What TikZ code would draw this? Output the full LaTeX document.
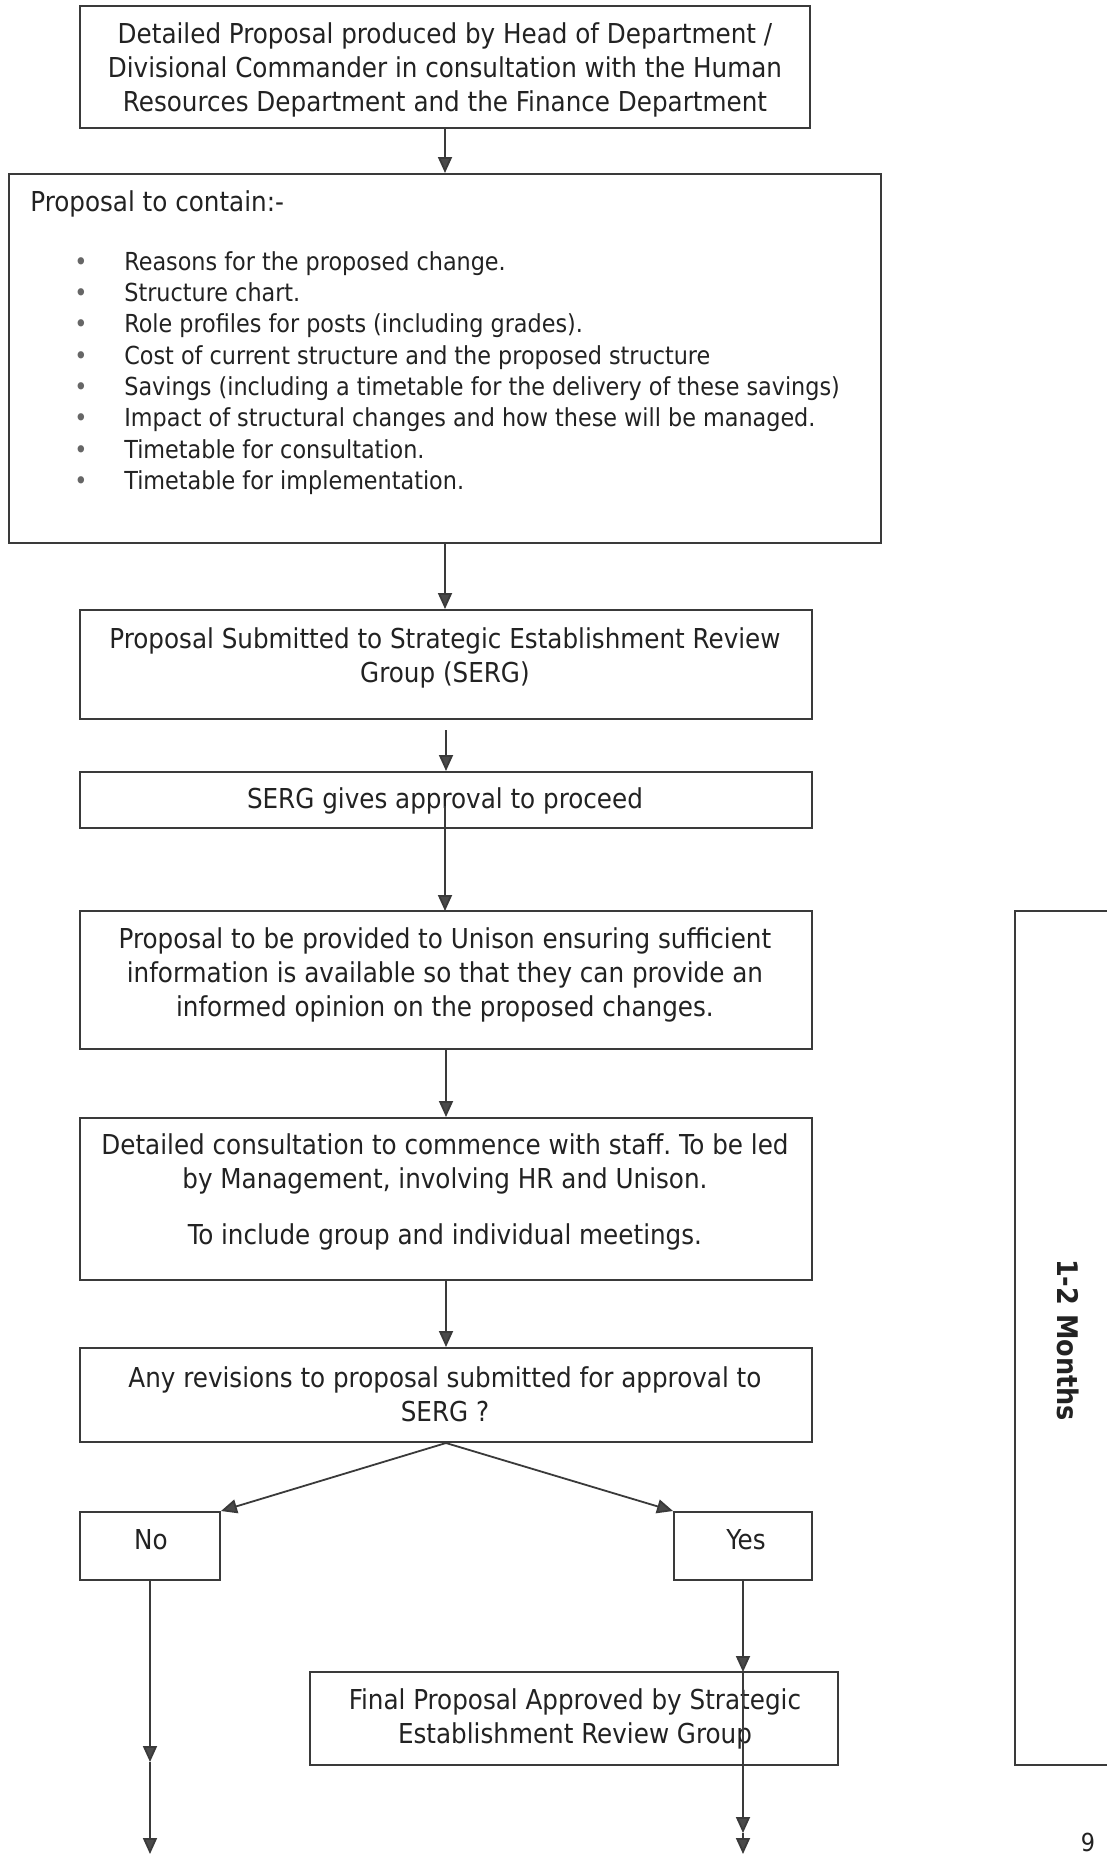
\documentclass[tikz,border=0pt]{standalone}
\usepackage{fontspec}
\setmainfont{DejaVu Sans Condensed}
\usetikzlibrary{arrows.meta,fit}
\definecolor{ink}{HTML}{222222}
\definecolor{edge}{HTML}{3A3A3A}
\definecolor{tip}{HTML}{4A4A4A}
\frenchspacing
\tikzset{
  box/.style={draw=edge, line width=1pt, inner sep=0pt, rectangle},
  txt/.style={text=ink, align=center, inner sep=0pt, font=\fontsize{13.7}{17}\selectfont},
  conn/.style={draw=edge, line width=0.9pt, -{Triangle[width=7pt,length=8pt,fill=tip]}},
}
\begin{document}
\begin{tikzpicture}[x=0.5pt,y=-0.5pt]
\useasboundingbox (0,0) rectangle (1107,1854);
\fill[white] (0,0) rectangle (1107,1854);
\clip (0,0) rectangle (1107,1854);

% boxes
\node[box, fit={(80,6)(810,128)}] (b1) {};
\node[box, fit={(9,174)(881,543)}] (b2) {};
\node[box, fit={(80,610)(812,719)}] (b3) {};
\node[box, fit={(80,772)(812,828)}] (b4) {};
\node[box, fit={(80,911)(812,1049)}] (b5) {};
\node[box, fit={(80,1118)(812,1280)}] (b6) {};
\node[box, fit={(80,1348)(812,1442)}] (b7) {};
\node[box, fit={(80,1512)(220,1580)}] (no) {};
\node[box, fit={(674,1512)(812,1580)}] (yes) {};
\node[box, fit={(310,1672)(838,1765)}] (fin) {};
\node[box, fit={(1015,911)(1120,1765)}] (months) {};

% texts
\node[txt] (b1t) at (445,70) {Detailed Proposal produced by Head of Department /\\Divisional Commander in consultation with the Human\\Resources Department and the Finance Department};
\node[txt, anchor=west] (b2h) at (30,204) {Proposal to contain:-};
\node[txt, anchor=west, align=left, font=\fontsize{12.4}{15.65}\selectfont] (b2l) at (74,373) {%
\makebox[25pt][l]{\textcolor{black!60}{•}}Reasons for the proposed change.\\
\makebox[25pt][l]{\textcolor{black!60}{•}}Structure chart.\\
\makebox[25pt][l]{\textcolor{black!60}{•}}Role profiles for posts (including grades).\\
\makebox[25pt][l]{\textcolor{black!60}{•}}Cost of current structure and the proposed structure\\
\makebox[25pt][l]{\textcolor{black!60}{•}}Savings (including a timetable for the delivery of these savings)\\
\makebox[25pt][l]{\textcolor{black!60}{•}}Impact of structural changes and how these will be managed.\\
\makebox[25pt][l]{\textcolor{black!60}{•}}Timetable for consultation.\\
\makebox[25pt][l]{\textcolor{black!60}{•}}Timetable for implementation.};
\node[txt] (b3t) at (445,658) {Proposal Submitted to Strategic Establishment Review\\Group (SERG)};
\node[txt] (b4t) at (445,801) {SERG gives approval to proceed};
\node[txt] (b5t) at (445,975) {Proposal to be provided to Unison ensuring sufficient\\information is available so that they can provide an\\informed opinion on the proposed changes.};
\node[txt] (b6t) at (445,1164) {Detailed consultation to commence with staff. To be led\\by Management, involving HR and Unison.};
\node[txt] (b6u) at (445,1237) {To include group and individual meetings.};
\node[txt] (b7t) at (445,1394) {Any revisions to proposal submitted for approval to\\SERG ?};
\node[txt] (not) at (151,1540) {No};
\node[txt] (yest) at (746,1540) {Yes};
\node[txt] (fint) at (575,1719) {Final Proposal Approved by Strategic\\Establishment Review Group};
\node[txt, rotate=-90, font=\bfseries\fontsize{14.2}{16}\selectfont] (mt) at (1068,1340) {1-2 Months};
\node[txt, anchor=south, font=\fontsize{12.4}{15}\selectfont] (pg) at (1088,1852) {9};

% connectors
\coordinate (na) at (150,1762);
\coordinate (nb) at (150,1854);
\coordinate (ya) at (743,1833);
\coordinate (yb) at (743,1854);
\coordinate (yf) at (743,1672);

\draw[conn] (b1.south) -- (b2.north);
\draw[conn] (b2.south) -- (b2.south |- b3.north);
\draw[conn, shorten <=5pt] (b3.south) -- (b3.south |- b4.north);
\draw[conn] (445,806) -- (445,911);
\draw[conn] (b5.south) -- (b6.north);
\draw[conn] (b6.south) -- (b7.north);
\draw[conn] (b7.south) -- (no.north east);
\draw[conn] (b7.south) -- (yes.north west);
\draw[conn] (no.south) -- (na);
\draw[conn] (na) -- (nb);
\draw[conn] (yes.south) -- (yf);
\draw[conn] (yf) -- (ya);
\draw[conn] (ya) -- (yb);
\end{tikzpicture}
\end{document}
